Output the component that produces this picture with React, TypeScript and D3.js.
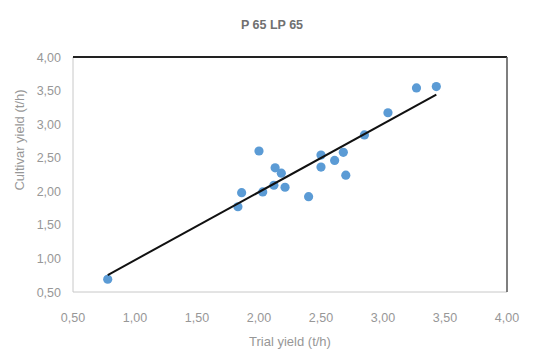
import * as d3 from 'd3'

const title = 'P 65 LP 65'
const xLabel = 'Trial yield (t/h)'
const yLabel = 'Cultivar  yield (t/h)'

const trialYield = [0.78, 1.83, 1.86, 2.0, 2.03, 2.12, 2.13, 2.18, 2.21, 2.4, 2.5, 2.5, 2.61, 2.68, 2.7, 2.85, 3.04, 3.27, 3.43]
const cultivarYield = [0.69, 1.77, 1.98, 2.6, 1.99, 2.09, 2.35, 2.27, 2.06, 1.92, 2.54, 2.36, 2.46, 2.58, 2.24, 2.84, 3.17, 3.54, 3.56]
const ticks = [0.5, 1, 1.5, 2, 2.5, 3, 3.5, 4]

const W = 535
const H = 358
const margin = { top: 57, right: 28, bottom: 66, left: 73 }

const fmt = (d: number) => d.toFixed(2).replace('.', ',')

export default function App() {
  const xScale = d3.scaleLinear().domain([0.5, 4]).range([margin.left, W - margin.right])
  const yScale = d3.scaleLinear().domain([0.5, 4]).range([H - margin.bottom, margin.top])

  // least squares trend line
  const mx = d3.mean(trialYield)!
  const my = d3.mean(cultivarYield)!
  let sxy = 0
  let sxx = 0
  trialYield.forEach((x, i) => {
    sxy += (x - mx) * (cultivarYield[i] - my)
    sxx += (x - mx) * (x - mx)
  })
  const slope = sxy / sxx
  const icpt = my - slope * mx
  const [x0, x1] = d3.extent(trialYield) as [number, number]
  const line = d3.line<number>().x(d => xScale(d)).y(d => yScale(icpt + slope * d))

  const font = "'Liberation Sans', Arial, sans-serif"
  const gray = '#979797'

  return (
    <div style={{ position: 'absolute', left: 0, top: 0 }}>
      <svg width={W} height={H} style={{ display: 'block', background: '#fff' }} fontFamily={font}>
        <text x={272} y={29} textAnchor="middle" fontSize={12.5} fontWeight={600} fill="#707070">{title}</text>

        <line x1={xScale(0.5)} x2={xScale(0.5)} y1={yScale(0.5)} y2={yScale(4)} stroke="#c8c8c8" strokeWidth={1} />
        <line x1={xScale(0.5)} x2={xScale(4)} y1={yScale(0.5)} y2={yScale(0.5)} stroke="#c8c8c8" strokeWidth={1} />
        <line x1={xScale(0.5)} x2={xScale(4)} y1={yScale(4)} y2={yScale(4)} stroke="#222" strokeWidth={1.8} />
        <line x1={xScale(4)} x2={xScale(4)} y1={yScale(0.5)} y2={yScale(4)} stroke="#555" strokeWidth={1.5} />

        {ticks.map(t => (
          <text key={'y' + t} x={61} y={yScale(t) + 4.5} textAnchor="end" fontSize={12.5} fill={gray}>{fmt(t)}</text>
        ))}
        {ticks.map(t => (
          <text key={'x' + t} x={xScale(t)} y={322} textAnchor="middle" fontSize={12.5} fill={gray}>{fmt(t)}</text>
        ))}

        <text x={290} y={346} textAnchor="middle" fontSize={13} fill={gray}>{xLabel}</text>
        <text transform={`translate(24, 140) rotate(-90)`} textAnchor="middle" fontSize={13} fill={gray}>{yLabel}</text>

        {trialYield.map((x, i) => (
          <circle key={i} cx={xScale(x)} cy={yScale(cultivarYield[i])} r={4.6} fill="#5b9bd5" />
        ))}

        <path d={line([x0, x1]) || ''} stroke="#111" strokeWidth={2} fill="none" />
      </svg>
    </div>
  )
}
